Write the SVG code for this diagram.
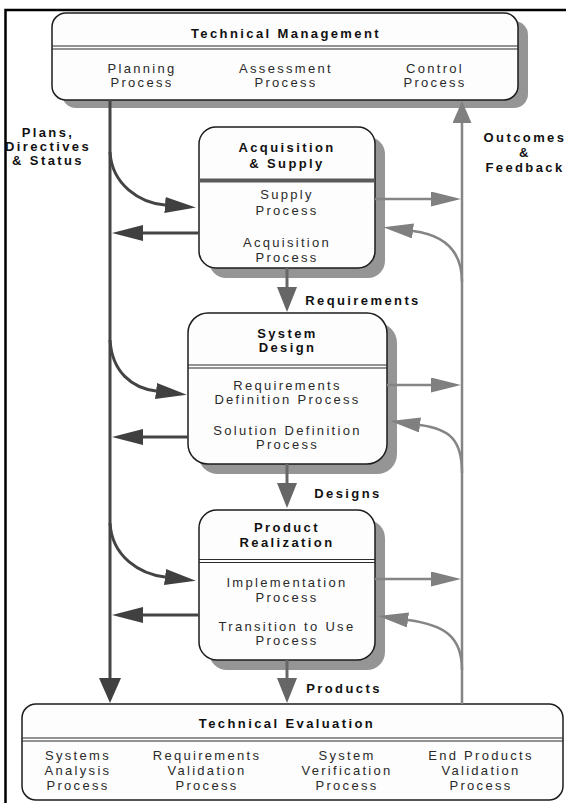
<svg xmlns="http://www.w3.org/2000/svg" width="566" height="803" viewBox="0 0 566 803">
<style>
text{font-family:"Liberation Sans",Arial,sans-serif;font-size:13px;text-anchor:middle}
.b{font-weight:bold;letter-spacing:2.4px;fill:#111}
.r{letter-spacing:2.3px;fill:#2a2a2a}
.box{fill:#fdfdfd;stroke:#1c1c1c;stroke-width:1.5}
.sh{fill:#959595}
.dv{stroke:#2a2a2a;stroke-width:1.2}
.dark{fill:none;stroke:#444;stroke-width:3}
.grey{fill:none;stroke:#858585;stroke-width:2.5}
.down{fill:none;stroke:#666;stroke-width:3}
</style>
<defs>
<marker id="mDark" markerUnits="userSpaceOnUse" markerWidth="32" markerHeight="16" refX="0" refY="8" orient="auto"><path d="M0,0 L31,8 L0,16 z" fill="#404040"/></marker>
<marker id="mGrey" markerUnits="userSpaceOnUse" markerWidth="31" markerHeight="15" refX="0" refY="7.5" orient="auto"><path d="M0,0 L30,7.5 L0,15 z" fill="#808080"/></marker>
<marker id="mUp" markerUnits="userSpaceOnUse" markerWidth="23" markerHeight="19" refX="0" refY="9.5" orient="auto"><path d="M0,0 L22,9.5 L0,19 z" fill="#808080"/></marker>
<marker id="mDown" markerUnits="userSpaceOnUse" markerWidth="26" markerHeight="20" refX="0" refY="10" orient="auto"><path d="M0,0 L25,10 L0,20 z" fill="#666"/></marker>
<marker id="mBig" markerUnits="userSpaceOnUse" markerWidth="26" markerHeight="22" refX="0" refY="11" orient="auto"><path d="M0,0 L25,11 L0,22 z" fill="#404040"/></marker>
</defs>
<rect width="566" height="803" fill="#fff"/>
<path d="M5.5,803 V10 H566" fill="none" stroke="#000" stroke-width="2.5"/>

<g id="technical-management">
<rect class="sh" x="62" y="21" width="466" height="87" rx="14"/>
<rect class="box" x="52" y="13" width="466" height="87" rx="14"/>
<line class="dv" x1="52" y1="46" x2="518" y2="46"/>
<line class="dv" x1="52" y1="49" x2="518" y2="49"/>
<text class="b" x="286" y="38">Technical Management</text>
<text class="r" x="142" y="73">Planning</text><text class="r" x="142" y="87">Process</text>
<text class="r" x="286" y="73">Assessment</text><text class="r" x="286" y="87">Process</text>
<text class="r" x="435" y="73">Control</text><text class="r" x="435" y="87">Process</text>
</g>

<g id="acquisition-supply">
<rect class="sh" x="209" y="137" width="176" height="141" rx="17"/>
<rect class="box" x="199" y="127" width="176" height="141" rx="17"/>
<rect x="199" y="178.5" width="176" height="4" fill="#5a5a5a"/>
<text class="b" x="287" y="152">Acquisition</text>
<text class="b" x="287" y="168">&amp; Supply</text>
<text class="r" x="287" y="199">Supply</text><text class="r" x="287" y="215">Process</text>
<text class="r" x="287" y="247">Acquisition</text><text class="r" x="287" y="262">Process</text>
</g>

<g id="system-design">
<rect class="sh" x="198" y="323" width="199" height="151" rx="20"/>
<rect class="box" x="188" y="313" width="199" height="151" rx="20"/>
<line class="dv" x1="188" y1="365" x2="387" y2="365"/>
<line class="dv" x1="188" y1="368" x2="387" y2="368"/>
<text class="b" x="287.5" y="338">System</text>
<text class="b" x="287.5" y="352">Design</text>
<text class="r" x="287.5" y="390">Requirements</text><text class="r" x="287.5" y="404">Definition Process</text>
<text class="r" x="287.5" y="435">Solution Definition</text><text class="r" x="287.5" y="449">Process</text>
</g>

<g id="product-realization">
<rect class="sh" x="209" y="520" width="176" height="150" rx="18"/>
<rect class="box" x="199" y="510" width="176" height="150" rx="18"/>
<line class="dv" x1="199" y1="559.5" x2="375" y2="559.5"/>
<line class="dv" x1="199" y1="562.5" x2="375" y2="562.5"/>
<text class="b" x="287" y="532">Product</text>
<text class="b" x="287" y="547">Realization</text>
<text class="r" x="287" y="587">Implementation</text><text class="r" x="287" y="602">Process</text>
<text class="r" x="287" y="631">Transition to Use</text><text class="r" x="287" y="645">Process</text>
</g>

<g id="technical-evaluation">
<rect class="box" x="22" y="704" width="541" height="96" rx="14"/>
<line class="dv" x1="22" y1="738" x2="563" y2="738"/>
<line class="dv" x1="22" y1="741" x2="563" y2="741"/>
<text class="b" x="287" y="728">Technical Evaluation</text>
<text class="r" x="78" y="760">Systems</text><text class="r" x="78" y="775">Analysis</text><text class="r" x="78" y="790">Process</text>
<text class="r" x="207" y="760">Requirements</text><text class="r" x="207" y="775">Validation</text><text class="r" x="207" y="790">Process</text>
<text class="r" x="347" y="760">System</text><text class="r" x="347" y="775">Verification</text><text class="r" x="347" y="790">Process</text>
<text class="r" x="481" y="760">End Products</text><text class="r" x="481" y="775">Validation</text><text class="r" x="481" y="790">Process</text>
</g>

<g id="connectors">
<path class="dark" d="M110,100 V678" marker-end="url(#mBig)"/>
<path class="grey" d="M462,704 V123" marker-end="url(#mUp)"/>
<path class="dark" d="M110,152 C112,185 140,203 165,205" marker-end="url(#mDark)"/>
<path class="dark" d="M110,340 C112,372 132,388 156,391" marker-end="url(#mDark)"/>
<path class="dark" d="M110,523 C112,557 140,574 165,577" marker-end="url(#mDark)"/>
<path class="dark" d="M199,233 H143" marker-end="url(#mDark)"/>
<path class="dark" d="M188,437 H143" marker-end="url(#mDark)"/>
<path class="dark" d="M199,615 H143" marker-end="url(#mDark)"/>
<path class="grey" d="M375,199 H431" marker-end="url(#mGrey)"/>
<path class="grey" d="M387,385 H431" marker-end="url(#mGrey)"/>
<path class="grey" d="M375,579 H431" marker-end="url(#mGrey)"/>
<path class="grey" d="M462,282 C462,252 445,235 413,231" marker-end="url(#mGrey)"/>
<path class="grey" d="M462,473 C462,440 450,429 420,425" marker-end="url(#mGrey)"/>
<path class="grey" d="M462,670 C462,637 445,625 408,620" marker-end="url(#mGrey)"/>
<path class="down" d="M287,268 V287" marker-end="url(#mDown)"/>
<path class="down" d="M287,464 V483" marker-end="url(#mDown)"/>
<path class="down" d="M287,660 V678" marker-end="url(#mDown)"/>
</g>

<g id="labels">
<text class="b" x="48" y="137">Plans,</text>
<text class="b" x="48" y="151">Directives</text>
<text class="b" x="48" y="165">&amp; Status</text>
<text class="b" x="525" y="142">Outcomes</text>
<text class="b" x="525" y="157">&amp;</text>
<text class="b" x="525" y="172">Feedback</text>
<text class="b" x="363" y="305">Requirements</text>
<text class="b" x="348" y="498">Designs</text>
<text class="b" x="344" y="693">Products</text>
</g>
</svg>
